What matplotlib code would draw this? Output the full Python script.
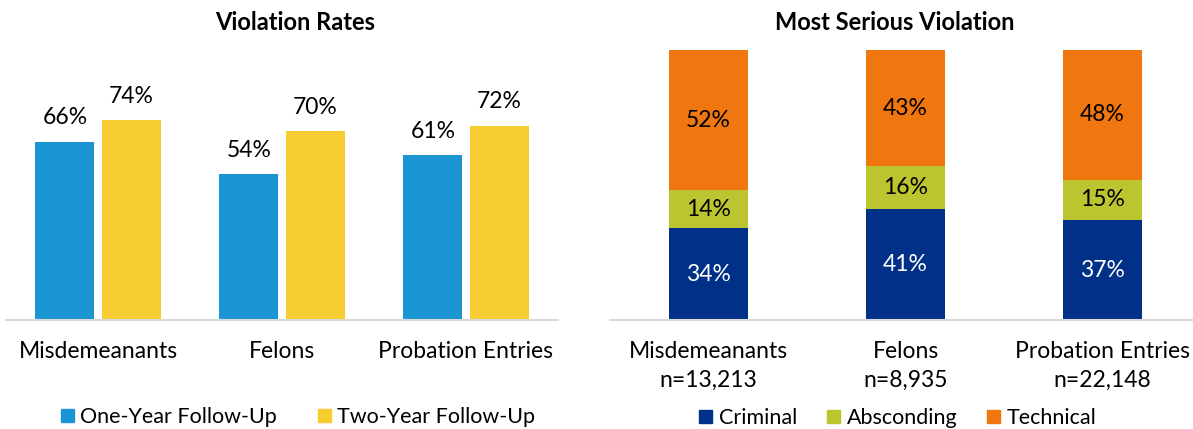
import matplotlib
matplotlib.use('Agg')
import matplotlib.pyplot as plt
from matplotlib.patches import Patch

plt.rcParams['font.family'] = ['Lato', 'DejaVu Sans']

### data
groups = ['Misdemeanants', 'Felons', 'Probation Entries']
counts = ['n=13,213', 'n=8,935', 'n=22,148']
one_year = [66, 54, 61]
two_year = [74, 70, 72]
criminal = [34, 41, 37]
absconding = [14, 16, 15]
technical = [52, 43, 48]

c_one, c_two = '#1b96d3', '#f5cd30'
c_crim, c_absc, c_tech = '#003087', '#bcc42f', '#f0760f'
axis_grey = '#d9d9d9'
fs = 16.5
fs_leg = 15.5

W, H = 1193, 429
fig = plt.figure(figsize=(W/100, H/100), dpi=100)

def px_axes(x0, x1, ytop, ybot):
    return fig.add_axes([x0/W, 1-ybot/H, (x1-x0)/W, (ybot-ytop)/H])

def clean(ax):
    for s in ['top', 'left', 'right']:
        ax.spines[s].set_visible(False)
    ax.spines['bottom'].set_color(axis_grey)
    ax.spines['bottom'].set_linewidth(1.5)
    ax.set_yticks([])
    ax.tick_params(axis='x', length=0, labelsize=fs, pad=15)
    ax.set_ylim(0, 100)

### left chart: violation rates
ax1 = px_axes(6, 558, 50, 320)
clean(ax1)
x = range(len(groups))
bw = 0.32
off = 0.18
b1 = ax1.bar([i-off for i in x], one_year, bw, color=c_one)
b2 = ax1.bar([i+off for i in x], two_year, bw, color=c_two)
for bars, vals in ((b1, one_year), (b2, two_year)):
    for b, v in zip(bars, vals):
        ax1.text(b.get_x()+b.get_width()/2, v+5, f'{v}%', ha='center',
                 va='bottom', fontsize=fs)
ax1.set_xlim(-0.5, 2.5)
ax1.set_xticks(list(x))
ax1.set_xticklabels(groups)
fig.text(295/W, 1-22/H, 'Violation Rates', ha='center', va='center',
         fontsize=17, fontweight='bold')
fig.legend([Patch(color=c_one), Patch(color=c_two)],
           ['One-Year Follow-Up', 'Two-Year Follow-Up'],
           loc='center', bbox_to_anchor=(298/W, 1-417/H), ncol=2,
           frameon=False, fontsize=fs_leg, handlelength=0.6, handleheight=0.6,
           handletextpad=0.3, columnspacing=1.9, borderpad=0)

### right chart: most serious violation
ax2 = px_axes(610, 1193, 50, 320)
clean(ax2)
bw2 = 0.4
bottom2 = [a+b for a, b in zip(criminal, absconding)]
s1 = ax2.bar(list(x), criminal, bw2, color=c_crim)
s2 = ax2.bar(list(x), absconding, bw2, bottom=criminal, color=c_absc)
s3 = ax2.bar(list(x), technical, bw2, bottom=bottom2, color=c_tech)
for bars, vals, col in ((s1, criminal, 'white'), (s2, absconding, 'black'),
                        (s3, technical, 'black')):
    for b, v in zip(bars, vals):
        ax2.text(b.get_x()+b.get_width()/2, b.get_y()+v/2, f'{v}%',
                 ha='center', va='center', fontsize=fs, color=col)
ax2.set_xlim(-0.5, 2.459)
ax2.set_xticks(list(x))
ax2.set_xticklabels([g+'\n'+n for g, n in zip(groups, counts)],
                    linespacing=1.45)
fig.text(895/W, 1-22/H, 'Most Serious Violation', ha='center', va='center',
         fontsize=17, fontweight='bold')
fig.legend([Patch(color=c_crim), Patch(color=c_absc), Patch(color=c_tech)],
           ['Criminal', 'Absconding', 'Technical'],
           loc='center', bbox_to_anchor=(898/W, 1-418/H), ncol=3,
           frameon=False, fontsize=fs_leg, handlelength=0.6, handleheight=0.6,
           handletextpad=0.3, columnspacing=1.4, borderpad=0)

fig.savefig('out.png', dpi=100)
